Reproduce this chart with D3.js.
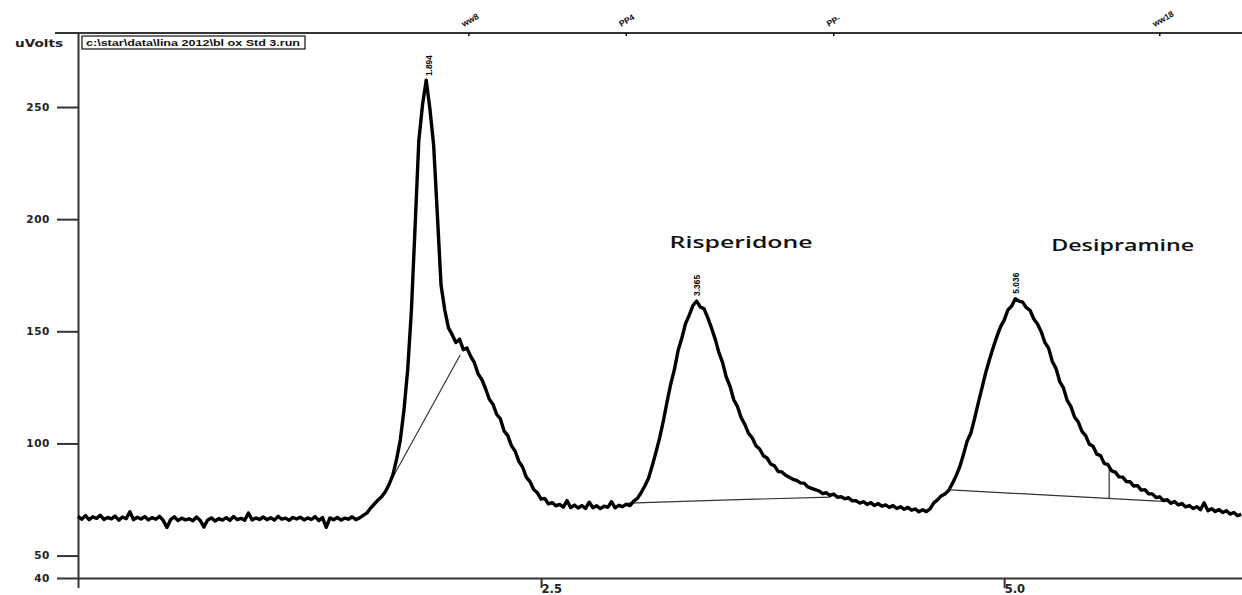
<!DOCTYPE html>
<html>
<head>
<meta charset="utf-8">
<script src="https://cdn.jsdelivr.net/npm/d3@7"></script>
<style>
  body { margin: 0; background: #fff; }
  svg { display: block; }
  .axis path, .axis line { stroke: #333; stroke-width: 2; }
  .axis text { font-family: "DejaVu Sans", sans-serif; font-weight: bold; fill: #222; }
</style>
</head>
<body>
<svg id="chart" width="1242" height="595"></svg>
<script>
// detector signal, one reading every 0.02 min starting at 0
var sampleStep = 0.02;
var signal = [
  67.5, 66.2, 67.8, 66.0, 67.3, 66.6, 68.0, 66.1, 67.0, 66.4,
  67.6, 65.8, 67.2, 66.5, 69.5, 66.0, 67.1, 66.3, 67.4, 65.9,
  66.9, 66.2, 67.5, 65.7, 62.5, 66.0, 67.3, 65.6, 66.7, 65.9,
  66.4, 65.5, 67.2, 65.6, 62.7, 65.9, 66.8, 65.4, 66.5, 65.8,
  66.9, 65.7, 67.4, 66.0, 66.6, 65.8, 69.0, 65.9, 66.8, 66.1,
  67.2, 66.0, 66.9, 65.8, 67.5, 66.2, 66.7, 65.7, 67.0, 66.3,
  67.1, 65.9, 66.8, 66.1, 67.4, 65.6, 66.9, 62.6, 66.8, 66.0,
  67.0, 65.8, 66.7, 66.2, 67.3, 66.0, 66.8, 67.9, 69.0, 71.2,
  73.0, 74.8, 76.3, 78.6, 81.8, 86.0, 93.0, 101.5, 115.0, 133.0,
  159.5, 197.0, 235.0, 251.0, 262.0, 249.0, 233.0, 202.0, 170.5, 159.5,
  151.5, 148.5, 145.0, 146.5, 141.8, 142.5, 138.8, 136.0, 131.0, 128.5,
  124.5, 119.8, 117.5, 113.0, 111.0, 105.6, 103.5, 99.0, 96.5, 92.0,
  89.5, 85.0, 83.0, 79.5, 78.0, 75.2, 75.5, 73.0, 73.6, 72.2,
  72.8, 71.6, 74.5, 71.4, 72.5, 71.2, 72.3, 71.0, 73.8, 71.3,
  72.2, 70.9, 72.0, 71.5, 74.0, 71.3, 72.4, 71.8, 72.9, 72.3,
  74.3, 75.5, 78.0, 81.0, 84.5, 90.0, 96.0, 102.5, 110.0, 118.5,
  126.5, 133.0, 141.5, 147.0, 153.5, 157.2, 161.5, 163.5, 160.8, 160.0,
  156.0, 151.5, 146.5, 140.5, 136.0, 129.5, 125.5, 119.5, 116.5, 111.5,
  108.5, 104.5, 102.5, 99.0, 97.5, 94.5, 93.5, 90.8, 90.0, 87.5,
  87.3, 85.8, 84.9, 84.0, 83.5, 82.4, 82.3, 80.6, 80.0, 79.4,
  78.8, 77.6, 78.0, 76.8, 77.4, 76.0, 76.2, 75.3, 75.8, 74.4,
  74.5, 73.4, 74.0, 72.8, 73.6, 72.3, 73.2, 72.0, 72.6, 71.5,
  72.3, 71.0, 71.8, 70.6, 71.5, 70.2, 70.8, 69.5, 70.4, 69.6,
  70.8, 73.5, 74.8, 76.6, 77.5, 79.0, 82.0, 85.5, 89.5, 95.0,
  101.0, 104.5, 111.0, 118.0, 124.7, 131.4, 137.2, 142.5, 147.5, 152.0,
  155.0, 159.5, 161.2, 164.5, 163.5, 163.0, 160.5, 159.3, 155.5, 153.2,
  149.8, 145.0, 142.5, 136.5, 133.4, 127.6, 124.8, 119.2, 116.5, 111.8,
  109.6, 105.4, 103.5, 99.6, 98.7, 95.2, 94.6, 91.1, 90.6, 87.8,
  87.2, 85.1, 85.0, 83.0, 82.9, 81.0, 81.2, 79.2, 79.4, 77.5,
  77.5, 75.9, 76.2, 74.5, 74.9, 73.3, 74.1, 72.6, 73.2, 71.7,
  72.3, 71.0, 71.8, 70.5, 73.5, 70.0, 70.9, 69.6, 70.5, 69.2,
  70.0, 68.5, 69.2, 67.8, 68.4
];

var yTicks = [40, 50, 100, 150, 200, 250];
var xTicks = [0, 2.5, 5.0];
var xTickLabels = ["", "2.5", "5.0"];

// retention time labels printed over the peaks
var peakTimes = [1.89, 3.34, 5.06];
var peakHeights = [262, 164, 165];
var peakLabels = ["1.894", "3.365", "5.036"];

// event marks on the top border
var eventTimes = [2.11, 2.96, 4.08, 5.84];
var eventLabels = ["ww8", "PP4", "PP-", "ww18"];

var compoundNames = ["Risperidone", "Desipramine"];
var compoundTimes = [3.58, 5.64];
var compoundLevels = [187, 185.8];

// integration baselines [time, uV]
var baseline1 = [[1.66, 79], [2.063, 139.4]];
var baseline2 = [[2.97, 73.4], [3.52, 74.8], [4.06, 76.1]];
var baseline3 = [[4.708, 79.3], [5.805, 74.4], [5.9, 74.0]];
var dropLine = [[5.567, 88.4], [5.567, 75.5]];

var fileLabel = "c:\\star\\data\\lina 2012\\bl ox Std 3.run";

var svg = d3.select("#chart");

var xScale = d3.scaleLinear().domain([0, 6.284]).range([78, 1242]);
var yScale = d3.scaleLinear().domain([40, 283]).range([578, 33]);

// top border
svg.append("line")
   .attr("x1", 55).attr("x2", 1242)
   .attr("y1", yScale(283)).attr("y2", yScale(283))
   .attr("stroke", "#333").attr("stroke-width", 2);

// event ticks + labels on top border
eventTimes.forEach(function (t, i) {
  var x = xScale(t);
  svg.append("line")
     .attr("x1", x).attr("x2", x)
     .attr("y1", 33).attr("y2", 36)
     .attr("stroke", "#000").attr("stroke-width", 1.5);
  svg.append("text")
     .attr("transform", "translate(" + (x - 5) + ",27)rotate(-30)")
     .attr("font-family", "Liberation Sans, Arial, sans-serif")
     .attr("font-weight", "bold")
     .attr("font-size", 8.5)
     .attr("fill", "#111")
     .text(eventLabels[i]);
});

// y axis
var yAxis = d3.axisLeft(yScale)
  .tickValues(yTicks)
  .tickSize(21)
  .tickSizeOuter(0)
  .tickPadding(7);

var gy = svg.append("g")
  .attr("class", "axis")
  .attr("transform", "translate(78,0)")
  .call(yAxis);
gy.selectAll("text")
  .attr("font-size", 10.5)
  .attr("letter-spacing", 0.6);

svg.append("text")
   .attr("x", 15).attr("y", 47)
   .attr("font-family", "DejaVu Sans, sans-serif")
   .attr("font-weight", "bold")
   .attr("font-size", 11)
   .attr("fill", "#222")
   .attr("textLength", 48)
   .attr("lengthAdjust", "spacingAndGlyphs")
   .text("uVolts");

// x axis
var xAxis = d3.axisBottom(xScale)
  .tickValues(xTicks)
  .tickSize(10)
  .tickSizeOuter(0)
  .tickFormat(function (d, i) { return xTickLabels[i]; });

var gx = svg.append("g")
  .attr("class", "axis")
  .attr("transform", "translate(0,578)")
  .call(xAxis);
gx.selectAll("text")
  .attr("font-size", 11.5)
  .attr("text-anchor", "start")
  .attr("x", 0)
  .attr("y", 15)
  .attr("dy", null);

// file name box
svg.append("rect")
   .attr("x", 82).attr("y", 36)
   .attr("width", 223).attr("height", 13)
   .attr("fill", "#fff")
   .attr("stroke", "#222").attr("stroke-width", 1.3);
svg.append("text")
   .attr("x", 86).attr("y", 46)
   .attr("font-family", "Liberation Sans, Arial, sans-serif")
   .attr("font-weight", "bold")
   .attr("font-size", 9)
   .attr("fill", "#111")
   .attr("textLength", 214)
   .attr("lengthAdjust", "spacingAndGlyphs")
   .text(fileLabel);

// baselines
var thin = d3.line()
  .x(function (d) { return xScale(d[0]); })
  .y(function (d) { return yScale(d[1]); });

[baseline1, baseline2, baseline3, dropLine].forEach(function (b) {
  svg.append("path")
     .attr("d", thin(b))
     .attr("fill", "none")
     .attr("stroke", "#333")
     .attr("stroke-width", 1.2);
});

// chromatogram trace
var trace = d3.line()
  .x(function (d, i) { return xScale(i * sampleStep); })
  .y(function (d) { return yScale(d); });

svg.append("path")
   .datum(signal)
   .attr("d", trace)
   .attr("fill", "none")
   .attr("stroke", "#000")
   .attr("stroke-width", 3.4)
   .attr("stroke-linejoin", "round");

// retention time labels
peakTimes.forEach(function (t, i) {
  var x = xScale(t), y = yScale(peakHeights[i]) - 4;
  svg.append("text")
     .attr("transform", "translate(" + (x + 3.5) + "," + y + ")rotate(-90)")
     .attr("font-family", "Liberation Sans, Arial, sans-serif")
     .attr("font-weight", "bold")
     .attr("font-size", 9.5)
     .attr("fill", "#000")
     .attr("textLength", 21)
     .attr("lengthAdjust", "spacingAndGlyphs")
     .text(peakLabels[i]);
});

// compound names
compoundNames.forEach(function (name, i) {
  svg.append("text")
     .attr("x", xScale(compoundTimes[i]))
     .attr("y", yScale(compoundLevels[i]))
     .attr("text-anchor", "middle")
     .attr("font-family", "Open Sans, sans-serif")
     .attr("font-weight", 600)
     .attr("font-size", 17)
     .attr("fill", "#111")
     .attr("textLength", 143)
     .attr("lengthAdjust", "spacingAndGlyphs")
     .text(name);
});
</script>
</body>
</html>
